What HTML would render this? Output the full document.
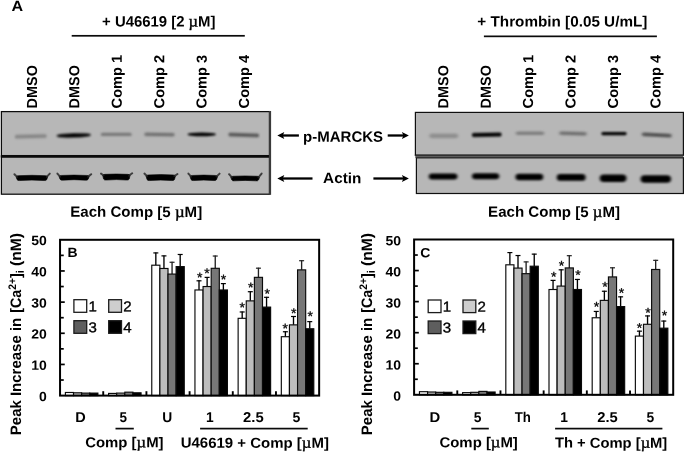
<!DOCTYPE html>
<html><head><meta charset="utf-8"><title>Figure</title>
<style>html,body{margin:0;padding:0;background:#fff}svg{display:block}text{font-family:"Liberation Sans", Arial, Helvetica, sans-serif;fill:#000}</style>
</head><body>
<svg width="685" height="452" viewBox="0 0 685 452">
<rect width="685" height="452" fill="#fff"/>
<text transform="translate(11.60,11.10) rotate(0.06) scale(1.1179,1.03)" font-size="14.4" font-weight="bold" text-anchor="start">A</text>
<text transform="translate(102.07,26.50) rotate(0.06) scale(1.0346,1.035)" font-size="14.4" font-weight="bold" text-anchor="start">+ U46619 [2 <tspan font-family="'Liberation Serif', serif" font-weight="normal" font-size="16" stroke="#000" stroke-width="0.4">µ</tspan>M]</text>
<text transform="translate(477.36,26.40) rotate(0.06) scale(1.0603,1.035)" font-size="14.4" font-weight="bold" text-anchor="start">+ Thrombin [0.05 U/mL]</text>
<rect x="71.7" y="34.95" width="173.1" height="1.7" fill="#0a0a0a"/>
<rect x="483.9" y="35.5" width="173" height="1.7" fill="#0a0a0a"/>
<text transform="translate(36.90,108.40) rotate(-89.94) scale(1.009,1.02)" font-size="14.3" font-weight="bold" text-anchor="start">DMSO</text>
<text transform="translate(448.20,108.40) rotate(-89.94) scale(1.009,1.02)" font-size="14.3" font-weight="bold" text-anchor="start">DMSO</text>
<text transform="translate(79.32,108.40) rotate(-89.94) scale(1.009,1.02)" font-size="14.3" font-weight="bold" text-anchor="start">DMSO</text>
<text transform="translate(490.65,108.40) rotate(-89.94) scale(1.009,1.02)" font-size="14.3" font-weight="bold" text-anchor="start">DMSO</text>
<text transform="translate(121.74,108.40) rotate(-89.94) scale(1.022,1.02)" font-size="14.3" font-weight="bold" text-anchor="start">Comp 1</text>
<text transform="translate(533.10,108.40) rotate(-89.94) scale(1.022,1.02)" font-size="14.3" font-weight="bold" text-anchor="start">Comp 1</text>
<text transform="translate(164.16,108.40) rotate(-89.94) scale(1.022,1.02)" font-size="14.3" font-weight="bold" text-anchor="start">Comp 2</text>
<text transform="translate(575.55,108.40) rotate(-89.94) scale(1.022,1.02)" font-size="14.3" font-weight="bold" text-anchor="start">Comp 2</text>
<text transform="translate(206.58,108.40) rotate(-89.94) scale(1.022,1.02)" font-size="14.3" font-weight="bold" text-anchor="start">Comp 3</text>
<text transform="translate(618.00,108.40) rotate(-89.94) scale(1.022,1.02)" font-size="14.3" font-weight="bold" text-anchor="start">Comp 3</text>
<text transform="translate(249.00,108.40) rotate(-89.94) scale(1.022,1.02)" font-size="14.3" font-weight="bold" text-anchor="start">Comp 4</text>
<text transform="translate(660.45,108.40) rotate(-89.94) scale(1.022,1.02)" font-size="14.3" font-weight="bold" text-anchor="start">Comp 4</text>
<defs><filter id="f05" x="-20%" y="-300%" width="140%" height="700%"><feGaussianBlur stdDeviation="0.65"/></filter><filter id="f07" x="-20%" y="-300%" width="140%" height="700%"><feGaussianBlur stdDeviation="1.2 0.75"/></filter><filter id="f08" x="-20%" y="-300%" width="140%" height="700%"><feGaussianBlur stdDeviation="1.1 0.8"/></filter><filter id="f10" x="-20%" y="-300%" width="140%" height="700%"><feGaussianBlur stdDeviation="1.3 0.9"/></filter><filter id="f12" x="-20%" y="-300%" width="140%" height="700%"><feGaussianBlur stdDeviation="1.5 1.1"/></filter><filter id="f16" x="-20%" y="-300%" width="140%" height="700%"><feGaussianBlur stdDeviation="2.0 1.4"/></filter></defs>
<rect x="1.4" y="111.6" width="268.1" height="44.0" fill="#b7b7b7" stroke="#0c0c0c" stroke-width="1.25"/>
<rect x="1.4" y="156.6" width="268.1" height="37.599999999999994" fill="#b7b7b7" stroke="#0c0c0c" stroke-width="1.25"/>
<rect x="0.8" y="155.1" width="269.5" height="2.6" fill="#0a0a0a"/>
<rect x="268.9" y="110.98" width="2.2" height="83.85" fill="#3a3a3a"/>
<rect x="14.80" y="134.50" width="31.90" height="3.80" rx="1.90" transform="rotate(-1.37 30.75 136.40)" fill="#5a5a5a" opacity="0.52" filter="url(#f10)"/>
<ellipse cx="73.75" cy="135.40" rx="17.25" ry="2.20" transform="rotate(-1.66 73.75 135.40)" fill="#000" opacity="1" filter="url(#f10)"/>
<rect x="100.80" y="132.70" width="30.90" height="3.40" rx="1.70" transform="rotate(0.00 116.25 134.40)" fill="#444" opacity="0.55" filter="url(#f10)"/>
<rect x="144.30" y="132.80" width="30.40" height="3.40" rx="1.70" transform="rotate(0.90 159.50 134.50)" fill="#404040" opacity="0.58" filter="url(#f10)"/>
<ellipse cx="201.75" cy="134.40" rx="14.25" ry="1.85" transform="rotate(0.00 201.75 134.40)" fill="#000" opacity="1" filter="url(#f10)"/>
<rect x="228.30" y="133.20" width="30.90" height="3.60" rx="1.80" transform="rotate(1.94 243.75 135.00)" fill="#303030" opacity="0.75" filter="url(#f10)"/>
<g filter="url(#f05)"><path d="M16.10,176.85 Q16.40,175.75 18.30,175.65 Q31.90,174.95 45.50,175.65 Q47.40,175.75 47.70,176.85 L46.80,179.55 Q46.10,180.85 44.20,180.55 Q31.90,179.65 19.60,180.55 Q17.70,180.85 17.00,179.55 Z" fill="#020202" stroke="#020202" stroke-width="0.6" stroke-linejoin="round"/><path d="M17.10,176.85 L14.40,174.20 M46.70,176.85 L49.80,173.60" stroke="#222" stroke-width="2.0" stroke-linecap="round" fill="none" opacity="0.8"/></g>
<g filter="url(#f05)"><path d="M59.10,176.65 Q59.40,175.55 61.30,175.45 Q74.10,174.75 86.90,175.45 Q88.80,175.55 89.10,176.65 L88.20,179.15 Q87.50,180.45 85.60,180.15 Q74.10,179.25 62.60,180.15 Q60.70,180.45 60.00,179.15 Z" fill="#020202" stroke="#020202" stroke-width="0.6" stroke-linejoin="round"/><path d="M60.10,176.65 L57.40,173.60 M88.10,176.65 L91.20,174.20" stroke="#222" stroke-width="2.0" stroke-linecap="round" fill="none" opacity="0.8"/></g>
<g filter="url(#f05)"><path d="M102.70,175.55 Q103.00,174.45 104.90,174.35 Q116.40,173.65 127.90,174.35 Q129.80,174.45 130.10,175.55 L129.20,179.05 Q128.50,180.35 126.60,180.05 Q116.40,179.15 106.20,180.05 Q104.30,180.35 103.60,179.05 Z" fill="#020202" stroke="#020202" stroke-width="0.6" stroke-linejoin="round"/><path d="M103.70,175.55 L101.00,173.60 M129.10,175.55 L132.20,173.30" stroke="#222" stroke-width="2.0" stroke-linecap="round" fill="none" opacity="0.8"/></g>
<g filter="url(#f05)"><path d="M146.10,176.15 Q146.40,175.05 148.30,174.95 Q160.75,174.25 173.20,174.95 Q175.10,175.05 175.40,176.15 L174.50,179.55 Q173.80,180.85 171.90,180.55 Q160.75,179.65 149.60,180.55 Q147.70,180.85 147.00,179.55 Z" fill="#020202" stroke="#020202" stroke-width="0.6" stroke-linejoin="round"/><path d="M147.10,176.15 L144.40,173.60 M174.40,176.15 L177.50,174.00" stroke="#222" stroke-width="2.0" stroke-linecap="round" fill="none" opacity="0.8"/></g>
<g filter="url(#f05)"><path d="M190.10,176.65 Q190.40,175.55 192.30,175.45 Q203.80,174.75 215.30,175.45 Q217.20,175.55 217.50,176.65 L216.60,179.55 Q215.90,180.85 214.00,180.55 Q203.80,179.65 193.60,180.55 Q191.70,180.85 191.00,179.55 Z" fill="#020202" stroke="#020202" stroke-width="0.6" stroke-linejoin="round"/><path d="M191.10,176.65 L188.40,173.60 M216.50,176.65 L219.60,173.60" stroke="#222" stroke-width="2.0" stroke-linecap="round" fill="none" opacity="0.8"/></g>
<g filter="url(#f05)"><path d="M230.80,177.45 Q231.10,176.35 233.00,176.25 Q245.15,175.55 257.30,176.25 Q259.20,176.35 259.50,177.45 L258.60,179.85 Q257.90,181.15 256.00,180.85 Q245.15,179.95 234.30,180.85 Q232.40,181.15 231.70,179.85 Z" fill="#020202" stroke="#020202" stroke-width="0.6" stroke-linejoin="round"/><path d="M231.80,177.45 L229.10,174.20 M258.50,177.45 L261.60,173.60" stroke="#222" stroke-width="2.0" stroke-linecap="round" fill="none" opacity="0.8"/></g>
<rect x="415.4" y="112.4" width="268.0" height="42.79999999999998" fill="#b7b7b7" stroke="#101010" stroke-width="1.2"/>
<rect x="416.4" y="157.7" width="267.0" height="35.80000000000001" fill="#b7b7b7" stroke="#101010" stroke-width="1.2"/>
<rect x="415.3" y="155.2" width="268.1" height="2.6" fill="#5c5c5c"/>
<rect x="414.8" y="154.7" width="269.1" height="0.9" fill="#1c1c1c"/>
<rect x="415.9" y="157.3" width="268.0" height="0.9" fill="#262626"/>
<rect x="429.30" y="133.50" width="28.90" height="4.80" rx="2.40" transform="rotate(0.00 443.75 135.90)" fill="#707070" opacity="0.55" filter="url(#f12)"/>
<rect x="471.80" y="132.80" width="29.90" height="4.00" rx="2.00" transform="rotate(-1.09 486.75 134.80)" fill="#000" opacity="1" filter="url(#f10)"/>
<rect x="515.80" y="131.40" width="28.40" height="3.60" rx="1.80" transform="rotate(0.00 530.00 133.20)" fill="#606060" opacity="0.65" filter="url(#f12)"/>
<rect x="559.30" y="131.70" width="27.40" height="3.60" rx="1.80" transform="rotate(1.58 573.00 133.50)" fill="#505050" opacity="0.7" filter="url(#f12)"/>
<rect x="601.30" y="131.90" width="25.40" height="3.40" rx="1.70" transform="rotate(0.00 614.00 133.60)" fill="#000" opacity="1" filter="url(#f10)"/>
<rect x="641.80" y="133.20" width="29.90" height="3.60" rx="1.80" transform="rotate(2.91 656.75 135.00)" fill="#3a3a3a" opacity="0.85" filter="url(#f12)"/>
<rect x="428.80" y="173.40" width="28.60" height="6.00" rx="3.00" fill="#000" filter="url(#f12)"/>
<rect x="472.00" y="173.20" width="27.20" height="6.00" rx="3.00" fill="#000" filter="url(#f12)"/>
<rect x="515.50" y="173.80" width="27.70" height="6.40" rx="3.20" fill="#000" filter="url(#f12)"/>
<rect x="556.80" y="174.00" width="28.80" height="6.80" rx="3.40" fill="#000" filter="url(#f12)"/>
<rect x="599.80" y="174.45" width="26.60" height="7.50" rx="3.75" fill="#000" filter="url(#f12)"/>
<rect x="640.60" y="175.20" width="30.40" height="7.60" rx="3.80" fill="#000" filter="url(#f12)"/>
<text transform="translate(303.06,141.80) rotate(0.06) scale(1.0435,1.035)" font-size="14.4" font-weight="bold" text-anchor="start">p-MARCKS</text>
<text transform="translate(323.12,183.10) rotate(0.06) scale(1.0619,1.035)" font-size="14.4" font-weight="bold" text-anchor="start">Actin</text>
<line x1="298.9" y1="135.5" x2="281.3" y2="135.5" stroke="#000" stroke-width="2.3"/>
<path d="M277.3,135.5 L284.3,132.05 L282.8,135.5 L284.3,138.95 Z" fill="#000"/>
<line x1="387.7" y1="135.5" x2="404.9" y2="135.5" stroke="#000" stroke-width="2.3"/>
<path d="M408.9,135.5 L401.9,132.05 L403.4,135.5 L401.9,138.95 Z" fill="#000"/>
<line x1="312.5" y1="178.5" x2="281.3" y2="178.5" stroke="#000" stroke-width="2.3"/>
<path d="M277.3,178.5 L284.3,175.05 L282.8,178.5 L284.3,181.95 Z" fill="#000"/>
<line x1="373.4" y1="178.5" x2="404.9" y2="178.5" stroke="#000" stroke-width="2.3"/>
<path d="M408.9,178.5 L401.9,175.05 L403.4,178.5 L401.9,181.95 Z" fill="#000"/>
<text transform="translate(70.19,216.80) rotate(0.06) scale(1.0478,1.035)" font-size="14.4" font-weight="bold" text-anchor="start">Each Comp [5 <tspan font-family="'Liberation Serif', serif" font-weight="normal" font-size="16" stroke="#000" stroke-width="0.4">µ</tspan>M]</text>
<text transform="translate(488.09,216.80) rotate(0.06) scale(1.0478,1.035)" font-size="14.4" font-weight="bold" text-anchor="start">Each Comp [5 <tspan font-family="'Liberation Serif', serif" font-weight="normal" font-size="16" stroke="#000" stroke-width="0.4">µ</tspan>M]</text>
<rect x="65.40" y="392.48" width="8.12" height="3.12" fill="#ffffff" stroke="#0a0a0a" stroke-width="1.15"/>
<rect x="73.52" y="392.80" width="8.12" height="2.80" fill="#bdbdbd" stroke="#0a0a0a" stroke-width="1.15"/>
<rect x="81.64" y="393.11" width="8.12" height="2.49" fill="#777777" stroke="#0a0a0a" stroke-width="1.15"/>
<rect x="89.76" y="393.11" width="8.12" height="2.49" fill="#000000" stroke="#0a0a0a" stroke-width="1.15"/>
<rect x="108.58" y="393.42" width="8.12" height="2.18" fill="#ffffff" stroke="#0a0a0a" stroke-width="1.15"/>
<rect x="116.70" y="393.11" width="8.12" height="2.49" fill="#bdbdbd" stroke="#0a0a0a" stroke-width="1.15"/>
<rect x="124.82" y="392.17" width="8.12" height="3.43" fill="#777777" stroke="#0a0a0a" stroke-width="1.15"/>
<rect x="132.94" y="392.80" width="8.12" height="2.80" fill="#000000" stroke="#0a0a0a" stroke-width="1.15"/>
<line x1="155.83" y1="265.20" x2="155.83" y2="252.42" stroke="#000" stroke-width="1.35"/>
<line x1="153.33" y1="252.92" x2="158.33" y2="252.92" stroke="#000" stroke-width="1.2"/>
<rect x="151.77" y="265.20" width="8.12" height="130.40" fill="#ffffff" stroke="#0a0a0a" stroke-width="1.15"/>
<line x1="163.95" y1="268.47" x2="163.95" y2="255.38" stroke="#000" stroke-width="1.35"/>
<line x1="161.45" y1="255.88" x2="166.45" y2="255.88" stroke="#000" stroke-width="1.2"/>
<rect x="159.89" y="268.47" width="8.12" height="127.13" fill="#bdbdbd" stroke="#0a0a0a" stroke-width="1.15"/>
<line x1="172.07" y1="274.08" x2="172.07" y2="261.77" stroke="#222" stroke-width="1.35"/>
<line x1="169.57" y1="262.27" x2="174.57" y2="262.27" stroke="#222" stroke-width="1.2"/>
<rect x="168.01" y="274.08" width="8.12" height="121.52" fill="#777777" stroke="#0a0a0a" stroke-width="1.15"/>
<line x1="180.19" y1="266.60" x2="180.19" y2="253.98" stroke="#000" stroke-width="1.35"/>
<line x1="177.69" y1="254.48" x2="182.69" y2="254.48" stroke="#000" stroke-width="1.2"/>
<rect x="176.13" y="266.60" width="8.12" height="129.00" fill="#000000" stroke="#0a0a0a" stroke-width="1.15"/>
<line x1="199.01" y1="289.97" x2="199.01" y2="280.31" stroke="#000" stroke-width="1.35"/>
<line x1="196.51" y1="280.81" x2="201.51" y2="280.81" stroke="#000" stroke-width="1.2"/>
<rect x="194.95" y="289.97" width="8.12" height="105.63" fill="#ffffff" stroke="#0a0a0a" stroke-width="1.15"/>
<text transform="translate(199.60,282.20) rotate(0.06) scale(1.0,1.0)" font-size="14" font-weight="normal" text-anchor="middle" stroke="#000" stroke-width="0.3">*</text>
<line x1="207.13" y1="286.54" x2="207.13" y2="276.88" stroke="#000" stroke-width="1.35"/>
<line x1="204.63" y1="277.38" x2="209.63" y2="277.38" stroke="#000" stroke-width="1.2"/>
<rect x="203.07" y="286.54" width="8.12" height="109.06" fill="#bdbdbd" stroke="#0a0a0a" stroke-width="1.15"/>
<text transform="translate(206.90,278.10) rotate(0.06) scale(1.0,1.0)" font-size="14" font-weight="normal" text-anchor="middle" stroke="#000" stroke-width="0.3">*</text>
<line x1="215.25" y1="268.31" x2="215.25" y2="255.54" stroke="#222" stroke-width="1.35"/>
<line x1="212.75" y1="256.04" x2="217.75" y2="256.04" stroke="#222" stroke-width="1.2"/>
<rect x="211.19" y="268.31" width="8.12" height="127.29" fill="#777777" stroke="#0a0a0a" stroke-width="1.15"/>
<line x1="223.37" y1="289.97" x2="223.37" y2="283.11" stroke="#000" stroke-width="1.35"/>
<line x1="220.87" y1="283.61" x2="225.87" y2="283.61" stroke="#000" stroke-width="1.2"/>
<rect x="219.31" y="289.97" width="8.12" height="105.63" fill="#000000" stroke="#0a0a0a" stroke-width="1.15"/>
<text transform="translate(223.50,284.30) rotate(0.06) scale(1.0,1.0)" font-size="14" font-weight="normal" text-anchor="middle" stroke="#000" stroke-width="0.3">*</text>
<line x1="242.19" y1="318.32" x2="242.19" y2="311.47" stroke="#000" stroke-width="1.35"/>
<line x1="239.69" y1="311.97" x2="244.69" y2="311.97" stroke="#000" stroke-width="1.2"/>
<rect x="238.13" y="318.32" width="8.12" height="77.28" fill="#ffffff" stroke="#0a0a0a" stroke-width="1.15"/>
<text transform="translate(242.20,312.20) rotate(0.06) scale(1.0,1.0)" font-size="14" font-weight="normal" text-anchor="middle" stroke="#000" stroke-width="0.3">*</text>
<line x1="250.31" y1="300.87" x2="250.31" y2="291.21" stroke="#000" stroke-width="1.35"/>
<line x1="247.81" y1="291.71" x2="252.81" y2="291.71" stroke="#000" stroke-width="1.2"/>
<rect x="246.25" y="300.87" width="8.12" height="94.73" fill="#bdbdbd" stroke="#0a0a0a" stroke-width="1.15"/>
<text transform="translate(250.70,292.20) rotate(0.06) scale(1.0,1.0)" font-size="14" font-weight="normal" text-anchor="middle" stroke="#000" stroke-width="0.3">*</text>
<line x1="258.44" y1="277.35" x2="258.44" y2="267.69" stroke="#222" stroke-width="1.35"/>
<line x1="255.94" y1="268.19" x2="260.94" y2="268.19" stroke="#222" stroke-width="1.2"/>
<rect x="254.38" y="277.35" width="8.12" height="118.25" fill="#777777" stroke="#0a0a0a" stroke-width="1.15"/>
<line x1="266.56" y1="307.11" x2="266.56" y2="296.82" stroke="#000" stroke-width="1.35"/>
<line x1="264.06" y1="297.32" x2="269.06" y2="297.32" stroke="#000" stroke-width="1.2"/>
<rect x="262.50" y="307.11" width="8.12" height="88.49" fill="#000000" stroke="#0a0a0a" stroke-width="1.15"/>
<text transform="translate(267.10,298.40) rotate(0.06) scale(1.0,1.0)" font-size="14" font-weight="normal" text-anchor="middle" stroke="#000" stroke-width="0.3">*</text>
<line x1="285.38" y1="336.71" x2="285.38" y2="331.25" stroke="#000" stroke-width="1.35"/>
<line x1="282.88" y1="331.75" x2="287.88" y2="331.75" stroke="#000" stroke-width="1.2"/>
<rect x="281.32" y="336.71" width="8.12" height="58.89" fill="#ffffff" stroke="#0a0a0a" stroke-width="1.15"/>
<text transform="translate(285.10,333.30) rotate(0.06) scale(1.0,1.0)" font-size="14" font-weight="normal" text-anchor="middle" stroke="#000" stroke-width="0.3">*</text>
<line x1="293.50" y1="324.87" x2="293.50" y2="315.99" stroke="#000" stroke-width="1.35"/>
<line x1="291.00" y1="316.49" x2="296.00" y2="316.49" stroke="#000" stroke-width="1.2"/>
<rect x="289.44" y="324.87" width="8.12" height="70.73" fill="#bdbdbd" stroke="#0a0a0a" stroke-width="1.15"/>
<text transform="translate(293.70,318.00) rotate(0.06) scale(1.0,1.0)" font-size="14" font-weight="normal" text-anchor="middle" stroke="#000" stroke-width="0.3">*</text>
<line x1="301.62" y1="269.87" x2="301.62" y2="260.21" stroke="#222" stroke-width="1.35"/>
<line x1="299.12" y1="260.71" x2="304.12" y2="260.71" stroke="#222" stroke-width="1.2"/>
<rect x="297.56" y="269.87" width="8.12" height="125.73" fill="#777777" stroke="#0a0a0a" stroke-width="1.15"/>
<line x1="309.74" y1="328.76" x2="309.74" y2="321.13" stroke="#000" stroke-width="1.35"/>
<line x1="307.24" y1="321.63" x2="312.24" y2="321.63" stroke="#000" stroke-width="1.2"/>
<rect x="305.68" y="328.76" width="8.12" height="66.84" fill="#000000" stroke="#0a0a0a" stroke-width="1.15"/>
<text transform="translate(310.20,320.90) rotate(0.06) scale(1.0,1.0)" font-size="14" font-weight="normal" text-anchor="middle" stroke="#000" stroke-width="0.3">*</text>
<rect x="60.05" y="239.80" width="259.10" height="155.80" fill="none" stroke="#000" stroke-width="2"/>
<text transform="translate(46.70,400.90) rotate(0.06) scale(1.06,1.01)" font-size="13.2" font-weight="bold" text-anchor="end">0</text>
<line x1="60.05" y1="380.02" x2="63.75" y2="380.02" stroke="#000" stroke-width="1.7"/>
<line x1="60.05" y1="364.44" x2="64.75" y2="364.44" stroke="#000" stroke-width="1.7"/>
<text transform="translate(46.70,369.74) rotate(0.06) scale(1.06,1.01)" font-size="13.2" font-weight="bold" text-anchor="end">10</text>
<line x1="60.05" y1="348.86" x2="63.75" y2="348.86" stroke="#000" stroke-width="1.7"/>
<line x1="60.05" y1="333.28" x2="64.75" y2="333.28" stroke="#000" stroke-width="1.7"/>
<text transform="translate(46.70,338.58) rotate(0.06) scale(1.06,1.01)" font-size="13.2" font-weight="bold" text-anchor="end">20</text>
<line x1="60.05" y1="317.70" x2="63.75" y2="317.70" stroke="#000" stroke-width="1.7"/>
<line x1="60.05" y1="302.12" x2="64.75" y2="302.12" stroke="#000" stroke-width="1.7"/>
<text transform="translate(46.70,307.42) rotate(0.06) scale(1.06,1.01)" font-size="13.2" font-weight="bold" text-anchor="end">30</text>
<line x1="60.05" y1="286.54" x2="63.75" y2="286.54" stroke="#000" stroke-width="1.7"/>
<line x1="60.05" y1="270.96" x2="64.75" y2="270.96" stroke="#000" stroke-width="1.7"/>
<text transform="translate(46.70,276.26) rotate(0.06) scale(1.06,1.01)" font-size="13.2" font-weight="bold" text-anchor="end">40</text>
<line x1="60.05" y1="255.38" x2="63.75" y2="255.38" stroke="#000" stroke-width="1.7"/>
<text transform="translate(46.70,245.10) rotate(0.06) scale(1.06,1.01)" font-size="13.2" font-weight="bold" text-anchor="end">50</text>
<line x1="103.23" y1="395.6" x2="103.23" y2="391.20000000000005" stroke="#000" stroke-width="1.9"/>
<line x1="146.42" y1="395.6" x2="146.42" y2="391.20000000000005" stroke="#000" stroke-width="1.9"/>
<line x1="189.60" y1="395.6" x2="189.60" y2="391.20000000000005" stroke="#000" stroke-width="1.9"/>
<line x1="232.78" y1="395.6" x2="232.78" y2="391.20000000000005" stroke="#000" stroke-width="1.9"/>
<line x1="275.97" y1="395.6" x2="275.97" y2="391.20000000000005" stroke="#000" stroke-width="1.9"/>
<text transform="translate(67.60,257.00) rotate(0.06) scale(1.06,1.01)" font-size="13.2" font-weight="bold" text-anchor="start">B</text>
<rect x="73.9" y="299.7" width="12.8" height="12.6" fill="#ffffff" stroke="#1c1c1c" stroke-width="1.3"/>
<text transform="translate(88.50,311.20) rotate(0.06) scale(1.06,1.0)" font-size="14.2" font-weight="normal" text-anchor="start" stroke="#000" stroke-width="0.35">1</text>
<rect x="108.7" y="299.7" width="12.8" height="12.6" fill="#cecece" stroke="#1c1c1c" stroke-width="1.3"/>
<text transform="translate(123.30,311.20) rotate(0.06) scale(1.06,1.0)" font-size="14.2" font-weight="normal" text-anchor="start" stroke="#000" stroke-width="0.35">2</text>
<rect x="73.9" y="320.7" width="12.8" height="12.6" fill="#5e5e5e" stroke="#1c1c1c" stroke-width="1.3"/>
<text transform="translate(88.50,332.20) rotate(0.06) scale(1.06,1.0)" font-size="14.2" font-weight="normal" text-anchor="start" stroke="#000" stroke-width="0.35">3</text>
<rect x="108.7" y="320.7" width="12.8" height="12.6" fill="#000000" stroke="#1c1c1c" stroke-width="1.3"/>
<text transform="translate(123.30,332.20) rotate(0.06) scale(1.06,1.0)" font-size="14.2" font-weight="normal" text-anchor="start" stroke="#000" stroke-width="0.35">4</text>
<text transform="translate(75.13,421.90) rotate(0.06) scale(1.0516,1.03)" font-size="13.8" font-weight="bold" text-anchor="start">D</text>
<text transform="translate(119.49,421.90) rotate(0.06) scale(0.9758,1.03)" font-size="13.8" font-weight="bold" text-anchor="start">5</text>
<text transform="translate(162.27,421.90) rotate(0.06) scale(1.0006,1.03)" font-size="13.8" font-weight="bold" text-anchor="start">U</text>
<text transform="translate(209.80,421.90) rotate(0.06) scale(1.0,1.03)" font-size="13.8" font-weight="bold" text-anchor="middle">1</text>
<text transform="translate(243.09,421.90) rotate(0.06) scale(1.0752,1.03)" font-size="13.8" font-weight="bold" text-anchor="start">2.5</text>
<text transform="translate(292.47,421.90) rotate(0.06) scale(1.0195,1.03)" font-size="13.8" font-weight="bold" text-anchor="start">5</text>
<rect x="115.5" y="427.75" width="18.30000000000001" height="1.7" fill="#0a0a0a"/>
<rect x="200.1" y="427.75" width="107.6" height="1.7" fill="#0a0a0a"/>
<text transform="translate(85.19,447.30) rotate(0.06) scale(1.0364,1.0)" font-size="14.4" font-weight="bold" text-anchor="start">Comp [<tspan font-family="'Liberation Serif', serif" font-weight="normal" font-size="16" stroke="#000" stroke-width="0.4">µ</tspan>M]</text>
<text transform="translate(180.70,447.60) rotate(0.06) scale(1.0406,1.0)" font-size="14.4" font-weight="bold" text-anchor="start">U46619 + Comp [<tspan font-family="'Liberation Serif', serif" font-weight="normal" font-size="16" stroke="#000" stroke-width="0.4">µ</tspan>M]</text>
<text transform="translate(21.00,435.20) rotate(-89.94) scale(1.0063,1.015)" font-size="14.9" font-weight="bold" text-anchor="start">Peak Increase in</text>
<text transform="translate(21.00,312.70) rotate(-89.94) scale(0.9535,1.015)" font-size="14.9" font-weight="bold" text-anchor="start">[Ca<tspan font-size="10.8" dy="-5.0">2+</tspan><tspan dy="5.0">]</tspan><tspan font-size="10.8" dy="2.6">i</tspan></text>
<text transform="translate(21.00,265.98) rotate(-89.94) scale(1.0517,1.015)" font-size="14.9" font-weight="bold" text-anchor="start">(nM)</text>
<rect x="419.45" y="391.69" width="8.12" height="3.11" fill="#ffffff" stroke="#0a0a0a" stroke-width="1.15"/>
<rect x="427.57" y="392.00" width="8.12" height="2.80" fill="#bdbdbd" stroke="#0a0a0a" stroke-width="1.15"/>
<rect x="435.69" y="392.32" width="8.12" height="2.48" fill="#777777" stroke="#0a0a0a" stroke-width="1.15"/>
<rect x="443.81" y="392.32" width="8.12" height="2.48" fill="#000000" stroke="#0a0a0a" stroke-width="1.15"/>
<rect x="462.63" y="392.63" width="8.12" height="2.17" fill="#ffffff" stroke="#0a0a0a" stroke-width="1.15"/>
<rect x="470.75" y="392.32" width="8.12" height="2.48" fill="#bdbdbd" stroke="#0a0a0a" stroke-width="1.15"/>
<rect x="478.88" y="391.38" width="8.12" height="3.42" fill="#777777" stroke="#0a0a0a" stroke-width="1.15"/>
<rect x="487.00" y="392.00" width="8.12" height="2.80" fill="#000000" stroke="#0a0a0a" stroke-width="1.15"/>
<line x1="509.88" y1="264.81" x2="509.88" y2="252.08" stroke="#000" stroke-width="1.35"/>
<line x1="507.38" y1="252.58" x2="512.38" y2="252.58" stroke="#000" stroke-width="1.2"/>
<rect x="505.82" y="264.81" width="8.12" height="129.99" fill="#ffffff" stroke="#0a0a0a" stroke-width="1.15"/>
<line x1="518.00" y1="268.08" x2="518.00" y2="255.03" stroke="#000" stroke-width="1.35"/>
<line x1="515.50" y1="255.53" x2="520.50" y2="255.53" stroke="#000" stroke-width="1.2"/>
<rect x="513.94" y="268.08" width="8.12" height="126.72" fill="#bdbdbd" stroke="#0a0a0a" stroke-width="1.15"/>
<line x1="526.12" y1="273.67" x2="526.12" y2="261.40" stroke="#222" stroke-width="1.35"/>
<line x1="523.62" y1="261.90" x2="528.62" y2="261.90" stroke="#222" stroke-width="1.2"/>
<rect x="522.06" y="273.67" width="8.12" height="121.13" fill="#777777" stroke="#0a0a0a" stroke-width="1.15"/>
<line x1="534.24" y1="266.21" x2="534.24" y2="253.63" stroke="#000" stroke-width="1.35"/>
<line x1="531.74" y1="254.13" x2="536.74" y2="254.13" stroke="#000" stroke-width="1.2"/>
<rect x="530.18" y="266.21" width="8.12" height="128.59" fill="#000000" stroke="#0a0a0a" stroke-width="1.15"/>
<line x1="553.06" y1="289.51" x2="553.06" y2="279.88" stroke="#000" stroke-width="1.35"/>
<line x1="550.56" y1="280.38" x2="555.56" y2="280.38" stroke="#000" stroke-width="1.2"/>
<rect x="549.00" y="289.51" width="8.12" height="105.29" fill="#ffffff" stroke="#0a0a0a" stroke-width="1.15"/>
<text transform="translate(553.70,281.60) rotate(0.06) scale(1.0,1.0)" font-size="14" font-weight="normal" text-anchor="middle" stroke="#000" stroke-width="0.3">*</text>
<line x1="561.18" y1="286.09" x2="561.18" y2="269.32" stroke="#000" stroke-width="1.35"/>
<line x1="558.68" y1="269.82" x2="563.68" y2="269.82" stroke="#000" stroke-width="1.2"/>
<rect x="557.12" y="286.09" width="8.12" height="108.71" fill="#bdbdbd" stroke="#0a0a0a" stroke-width="1.15"/>
<text transform="translate(561.50,270.50) rotate(0.06) scale(1.0,1.0)" font-size="14" font-weight="normal" text-anchor="middle" stroke="#000" stroke-width="0.3">*</text>
<line x1="569.30" y1="267.92" x2="569.30" y2="255.19" stroke="#222" stroke-width="1.35"/>
<line x1="566.80" y1="255.69" x2="571.80" y2="255.69" stroke="#222" stroke-width="1.2"/>
<rect x="565.24" y="267.92" width="8.12" height="126.88" fill="#777777" stroke="#0a0a0a" stroke-width="1.15"/>
<line x1="577.42" y1="289.51" x2="577.42" y2="278.95" stroke="#000" stroke-width="1.35"/>
<line x1="574.92" y1="279.45" x2="579.92" y2="279.45" stroke="#000" stroke-width="1.2"/>
<rect x="573.36" y="289.51" width="8.12" height="105.29" fill="#000000" stroke="#0a0a0a" stroke-width="1.15"/>
<text transform="translate(577.90,279.80) rotate(0.06) scale(1.0,1.0)" font-size="14" font-weight="normal" text-anchor="middle" stroke="#000" stroke-width="0.3">*</text>
<line x1="596.25" y1="317.77" x2="596.25" y2="310.94" stroke="#000" stroke-width="1.35"/>
<line x1="593.75" y1="311.44" x2="598.75" y2="311.44" stroke="#000" stroke-width="1.2"/>
<rect x="592.19" y="317.77" width="8.12" height="77.03" fill="#ffffff" stroke="#0a0a0a" stroke-width="1.15"/>
<text transform="translate(596.50,311.60) rotate(0.06) scale(1.0,1.0)" font-size="14" font-weight="normal" text-anchor="middle" stroke="#000" stroke-width="0.3">*</text>
<line x1="604.37" y1="300.38" x2="604.37" y2="290.75" stroke="#000" stroke-width="1.35"/>
<line x1="601.87" y1="291.25" x2="606.87" y2="291.25" stroke="#000" stroke-width="1.2"/>
<rect x="600.31" y="300.38" width="8.12" height="94.42" fill="#bdbdbd" stroke="#0a0a0a" stroke-width="1.15"/>
<text transform="translate(605.00,291.60) rotate(0.06) scale(1.0,1.0)" font-size="14" font-weight="normal" text-anchor="middle" stroke="#000" stroke-width="0.3">*</text>
<line x1="612.49" y1="276.93" x2="612.49" y2="267.30" stroke="#222" stroke-width="1.35"/>
<line x1="609.99" y1="267.80" x2="614.99" y2="267.80" stroke="#222" stroke-width="1.2"/>
<rect x="608.43" y="276.93" width="8.12" height="117.87" fill="#777777" stroke="#0a0a0a" stroke-width="1.15"/>
<line x1="620.61" y1="306.59" x2="620.61" y2="296.34" stroke="#000" stroke-width="1.35"/>
<line x1="618.11" y1="296.84" x2="623.11" y2="296.84" stroke="#000" stroke-width="1.2"/>
<rect x="616.55" y="306.59" width="8.12" height="88.21" fill="#000000" stroke="#0a0a0a" stroke-width="1.15"/>
<text transform="translate(621.40,297.80) rotate(0.06) scale(1.0,1.0)" font-size="14" font-weight="normal" text-anchor="middle" stroke="#000" stroke-width="0.3">*</text>
<line x1="639.43" y1="336.10" x2="639.43" y2="330.66" stroke="#000" stroke-width="1.35"/>
<line x1="636.93" y1="331.16" x2="641.93" y2="331.16" stroke="#000" stroke-width="1.2"/>
<rect x="635.37" y="336.10" width="8.12" height="58.70" fill="#ffffff" stroke="#0a0a0a" stroke-width="1.15"/>
<text transform="translate(639.40,332.70) rotate(0.06) scale(1.0,1.0)" font-size="14" font-weight="normal" text-anchor="middle" stroke="#000" stroke-width="0.3">*</text>
<line x1="647.55" y1="324.29" x2="647.55" y2="315.44" stroke="#000" stroke-width="1.35"/>
<line x1="645.05" y1="315.94" x2="650.05" y2="315.94" stroke="#000" stroke-width="1.2"/>
<rect x="643.49" y="324.29" width="8.12" height="70.51" fill="#bdbdbd" stroke="#0a0a0a" stroke-width="1.15"/>
<text transform="translate(648.00,317.40) rotate(0.06) scale(1.0,1.0)" font-size="14" font-weight="normal" text-anchor="middle" stroke="#000" stroke-width="0.3">*</text>
<line x1="655.67" y1="269.47" x2="655.67" y2="259.84" stroke="#222" stroke-width="1.35"/>
<line x1="653.17" y1="260.34" x2="658.17" y2="260.34" stroke="#222" stroke-width="1.2"/>
<rect x="651.61" y="269.47" width="8.12" height="125.33" fill="#777777" stroke="#0a0a0a" stroke-width="1.15"/>
<line x1="663.79" y1="328.18" x2="663.79" y2="320.57" stroke="#000" stroke-width="1.35"/>
<line x1="661.29" y1="321.07" x2="666.29" y2="321.07" stroke="#000" stroke-width="1.2"/>
<rect x="659.73" y="328.18" width="8.12" height="66.62" fill="#000000" stroke="#0a0a0a" stroke-width="1.15"/>
<text transform="translate(664.50,320.30) rotate(0.06) scale(1.0,1.0)" font-size="14" font-weight="normal" text-anchor="middle" stroke="#000" stroke-width="0.3">*</text>
<rect x="414.10" y="239.50" width="259.10" height="155.30" fill="none" stroke="#000" stroke-width="2"/>
<text transform="translate(401.00,400.60) rotate(0.06) scale(1.06,1.01)" font-size="13.2" font-weight="bold" text-anchor="end">0</text>
<line x1="414.10" y1="379.27" x2="417.80" y2="379.27" stroke="#000" stroke-width="1.7"/>
<line x1="414.10" y1="363.74" x2="418.80" y2="363.74" stroke="#000" stroke-width="1.7"/>
<text transform="translate(401.00,369.54) rotate(0.06) scale(1.06,1.01)" font-size="13.2" font-weight="bold" text-anchor="end">10</text>
<line x1="414.10" y1="348.21" x2="417.80" y2="348.21" stroke="#000" stroke-width="1.7"/>
<line x1="414.10" y1="332.68" x2="418.80" y2="332.68" stroke="#000" stroke-width="1.7"/>
<text transform="translate(401.00,338.48) rotate(0.06) scale(1.06,1.01)" font-size="13.2" font-weight="bold" text-anchor="end">20</text>
<line x1="414.10" y1="317.15" x2="417.80" y2="317.15" stroke="#000" stroke-width="1.7"/>
<line x1="414.10" y1="301.62" x2="418.80" y2="301.62" stroke="#000" stroke-width="1.7"/>
<text transform="translate(401.00,307.42) rotate(0.06) scale(1.06,1.01)" font-size="13.2" font-weight="bold" text-anchor="end">30</text>
<line x1="414.10" y1="286.09" x2="417.80" y2="286.09" stroke="#000" stroke-width="1.7"/>
<line x1="414.10" y1="270.56" x2="418.80" y2="270.56" stroke="#000" stroke-width="1.7"/>
<text transform="translate(401.00,276.36) rotate(0.06) scale(1.06,1.01)" font-size="13.2" font-weight="bold" text-anchor="end">40</text>
<line x1="414.10" y1="255.03" x2="417.80" y2="255.03" stroke="#000" stroke-width="1.7"/>
<text transform="translate(401.00,245.30) rotate(0.06) scale(1.06,1.01)" font-size="13.2" font-weight="bold" text-anchor="end">50</text>
<line x1="457.28" y1="394.8" x2="457.28" y2="390.40000000000003" stroke="#000" stroke-width="1.9"/>
<line x1="500.47" y1="394.8" x2="500.47" y2="390.40000000000003" stroke="#000" stroke-width="1.9"/>
<line x1="543.65" y1="394.8" x2="543.65" y2="390.40000000000003" stroke="#000" stroke-width="1.9"/>
<line x1="586.83" y1="394.8" x2="586.83" y2="390.40000000000003" stroke="#000" stroke-width="1.9"/>
<line x1="630.02" y1="394.8" x2="630.02" y2="390.40000000000003" stroke="#000" stroke-width="1.9"/>
<text transform="translate(420.20,257.20) rotate(0.06) scale(1.06,1.01)" font-size="13.2" font-weight="bold" text-anchor="start">C</text>
<rect x="428.20000000000005" y="300.0" width="12.8" height="12.6" fill="#ffffff" stroke="#1c1c1c" stroke-width="1.3"/>
<text transform="translate(442.80,311.50) rotate(0.06) scale(1.06,1.0)" font-size="14.2" font-weight="normal" text-anchor="start" stroke="#000" stroke-width="0.35">1</text>
<rect x="463.0" y="300.0" width="12.8" height="12.6" fill="#cecece" stroke="#1c1c1c" stroke-width="1.3"/>
<text transform="translate(477.60,311.50) rotate(0.06) scale(1.06,1.0)" font-size="14.2" font-weight="normal" text-anchor="start" stroke="#000" stroke-width="0.35">2</text>
<rect x="428.20000000000005" y="321.0" width="12.8" height="12.6" fill="#5e5e5e" stroke="#1c1c1c" stroke-width="1.3"/>
<text transform="translate(442.80,332.50) rotate(0.06) scale(1.06,1.0)" font-size="14.2" font-weight="normal" text-anchor="start" stroke="#000" stroke-width="0.35">3</text>
<rect x="463.0" y="321.0" width="12.8" height="12.6" fill="#000000" stroke="#1c1c1c" stroke-width="1.3"/>
<text transform="translate(477.60,332.50) rotate(0.06) scale(1.06,1.0)" font-size="14.2" font-weight="normal" text-anchor="start" stroke="#000" stroke-width="0.35">4</text>
<text transform="translate(429.51,421.90) rotate(0.06) scale(1.0752,1.03)" font-size="13.8" font-weight="bold" text-anchor="start">D</text>
<text transform="translate(473.87,421.90) rotate(0.06) scale(1.0049,1.03)" font-size="13.8" font-weight="bold" text-anchor="start">5</text>
<text transform="translate(514.75,421.90) rotate(0.06) scale(0.9591,1.03)" font-size="13.8" font-weight="bold" text-anchor="start">Th</text>
<text transform="translate(564.15,421.90) rotate(0.06) scale(1.0,1.03)" font-size="13.8" font-weight="bold" text-anchor="middle">1</text>
<text transform="translate(597.29,421.90) rotate(0.06) scale(1.0698,1.03)" font-size="13.8" font-weight="bold" text-anchor="start">2.5</text>
<text transform="translate(646.57,421.90) rotate(0.06) scale(1.0049,1.03)" font-size="13.8" font-weight="bold" text-anchor="start">5</text>
<rect x="471.3" y="427.75" width="17.5" height="1.7" fill="#0a0a0a"/>
<rect x="555.1" y="427.75" width="107.29999999999995" height="1.7" fill="#0a0a0a"/>
<text transform="translate(439.49,447.30) rotate(0.06) scale(1.0364,1.0)" font-size="14.4" font-weight="bold" text-anchor="start">Comp [<tspan font-family="'Liberation Serif', serif" font-weight="normal" font-size="16" stroke="#000" stroke-width="0.4">µ</tspan>M]</text>
<text transform="translate(554.93,447.60) rotate(0.06) scale(1.0255,1.0)" font-size="14.4" font-weight="bold" text-anchor="start">Th + Comp [<tspan font-family="'Liberation Serif', serif" font-weight="normal" font-size="16" stroke="#000" stroke-width="0.4">µ</tspan>M]</text>
<text transform="translate(372.00,435.20) rotate(-89.94) scale(1.0063,1.015)" font-size="14.9" font-weight="bold" text-anchor="start">Peak Increase in</text>
<text transform="translate(372.00,312.70) rotate(-89.94) scale(0.9535,1.015)" font-size="14.9" font-weight="bold" text-anchor="start">[Ca<tspan font-size="10.8" dy="-5.0">2+</tspan><tspan dy="5.0">]</tspan><tspan font-size="10.8" dy="2.6">i</tspan></text>
<text transform="translate(372.00,265.98) rotate(-89.94) scale(1.0517,1.015)" font-size="14.9" font-weight="bold" text-anchor="start">(nM)</text>
</svg>
</body></html>
